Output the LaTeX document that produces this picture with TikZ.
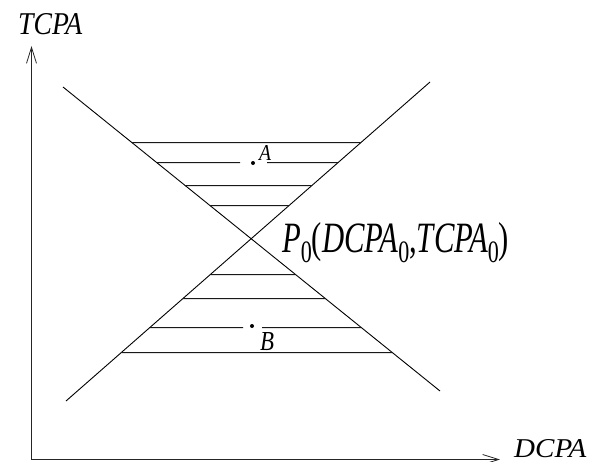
\documentclass[tikz,border=0pt]{standalone}
\usepackage{fontspec}
\setmainfont{Liberation Serif}
\usetikzlibrary{arrows.meta,calc}
\newcommand\lowsub[1]{\raisebox{-0.25em}{\scalebox{0.72}{#1}}}
\begin{document}
\begin{tikzpicture}[x=1pt,y=-1pt,
  diag/.style={line width=0.9pt},
  hline/.style={line width=1pt, black!90},
  axis/.style={line width=1pt, black!85, -{Straight Barb[length=16pt,width=10pt,line width=0.8pt]}},
  lbl/.style={inner sep=0pt, anchor=base west},
  dotmark/.style={circle, fill, inner sep=0pt, minimum size=4pt}]
\useasboundingbox (0,0) rectangle (589,461);
% axes
\coordinate (O) at (31.5,459.5);
\coordinate (Ytip) at (31.5,46);
\coordinate (Xtip) at (500,459.5);
\draw[axis] (O) -- (Ytip);
\draw[axis] (O) -- (Xtip);
% diagonals
\coordinate (D1) at (63,87);
\coordinate (D2) at (440,391);
\coordinate (U1) at (66,401);
\coordinate (U2) at (430,82);
\draw[diag] (D1) -- (D2);
\draw[diag] (U1) -- (U2);
% upper horizontal lines (left on D, right on U)
\foreach \yy in {142.5,185.5,205.5}{
  \draw[hline] ($(D1)!{(\yy-87)/304}!(D2)$) -- ($(U1)!{(401-\yy)/319}!(U2)$);
}
% lower horizontal lines (left on U, right on D)
\foreach \yy in {274.5,298.5,352.5}{
  \draw[hline] ($(U1)!{(401-\yy)/319}!(U2)$) -- ($(D1)!{(\yy-87)/304}!(D2)$);
}
% lines with gaps
\coordinate (Ag1) at (240,162.5);
\coordinate (Ag2) at (267,162.5);
\draw[hline] ($(D1)!{(162.5-87)/304}!(D2)$) -- (Ag1);
\draw[hline] (Ag2) -- ($(U1)!{(401-162.5)/319}!(U2)$);
\coordinate (Bg1) at (243,327.5);
\coordinate (Bg2) at (262,327.5);
\draw[hline] ($(U1)!{(401-327.5)/319}!(U2)$) -- (Bg1);
\draw[hline] (Bg2) -- ($(D1)!{(327.5-87)/304}!(D2)$);
% points
\node[dotmark] (Adot) at (253,163) {};
\node[dotmark] (Bdot) at (252,326) {};
% labels
\node[lbl] (Alab) at (259,160) {\resizebox{12pt}{15pt}{\itshape A}};
\node[lbl] (Blab) at (260,350) {\resizebox{14pt}{18pt}{\itshape B}};
\node[lbl] (tcpa) at (18,34) {\resizebox{64pt}{21pt}{\itshape TCPA}};
\node[lbl] (dcpa) at (514,457) {\resizebox{72pt}{18pt}{\itshape DCPA}};
\node[lbl] (P0) at (282,252) {\resizebox{227pt}{30pt}{{\itshape P}\lowsub{0}({\itshape DCPA}\lowsub{0},{\itshape TCPA}\lowsub{0})}};
\end{tikzpicture}
\end{document}
